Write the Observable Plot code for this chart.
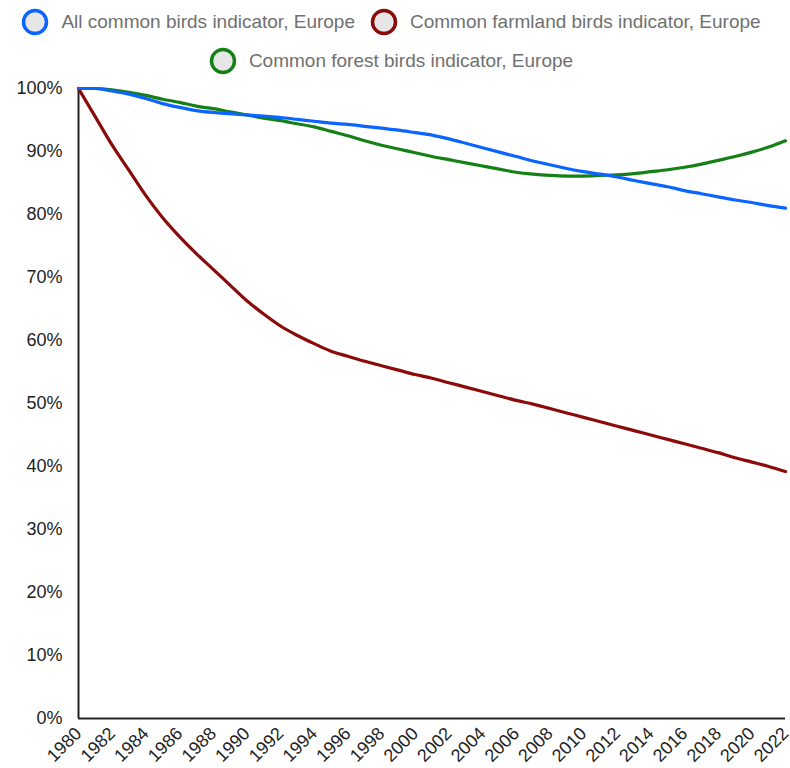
<!DOCTYPE html>
<html><head><meta charset="utf-8">
<script src="https://cdn.jsdelivr.net/npm/d3@7"></script>
<script src="https://cdn.jsdelivr.net/npm/@observablehq/plot@0.6"></script>
<style>
body{margin:0;background:#fff;font-family:"Liberation Sans",Arial,sans-serif;}
#legend{display:flex;flex-wrap:wrap;justify-content:center;column-gap:15px;row-gap:10px;width:790px;height:76px;box-sizing:border-box;padding-top:8px;padding-right:8px;}
.item{display:flex;align-items:center;gap:12px;font-size:19px;color:#707070;height:28px;white-space:nowrap;}
.item svg{display:block;}
</style></head><body>
<div id="legend"></div><div id="chart"></div>
<script>
const years = [1980,1981,1982,1983,1984,1985,1986,1987,1988,1989,1990,1991,1992,1993,1994,1995,1996,1997,1998,1999,2000,2001,2002,2003,2004,2005,2006,2007,2008,2009,2010,2011,2012,2013,2014,2015,2016,2017,2018,2019,2020,2021,2022];
const allBirds = [100,100,99.6,99.1,98.4,97.6,97.0,96.5,96.2,96.0,95.8,95.6,95.4,95.1,94.8,94.5,94.3,94.0,93.7,93.4,93.0,92.6,92.0,91.3,90.6,89.9,89.2,88.5,87.9,87.3,86.8,86.4,85.95,85.4,84.9,84.4,83.8,83.3,82.8,82.3,81.9,81.4,81.0];
const farmland = [100,95.5,91,87,83,79.5,76.5,73.8,71.3,68.8,66.3,64.2,62.3,60.8,59.5,58.3,57.5,56.7,56.0,55.3,54.6,54.0,53.3,52.6,51.9,51.2,50.5,49.9,49.2,48.5,47.8,47.1,46.4,45.7,45.0,44.3,43.6,42.9,42.2,41.4,40.7,40.0,39.2];
const forest = [100,100,99.8,99.4,98.9,98.3,97.8,97.2,96.8,96.3,95.8,95.3,94.9,94.4,93.9,93.2,92.5,91.7,91.0,90.4,89.8,89.2,88.7,88.2,87.7,87.2,86.7,86.4,86.2,86.1,86.1,86.2,86.3,86.5,86.8,87.1,87.5,88.0,88.6,89.2,89.9,90.7,91.7];
const seriesNames = ["All common birds indicator, Europe","Common farmland birds indicator, Europe","Common forest birds indicator, Europe"];
const seriesColors = ["#0a64ff","#8b0a0a","#158015"];
const xTicks = [1980,1982,1984,1986,1988,1990,1992,1994,1996,1998,2000,2002,2004,2006,2008,2010,2012,2014,2016,2018,2020,2022];
const yTicks = [0,10,20,30,40,50,60,70,80,90,100];

const seriesValues = [allBirds, farmland, forest];
// legend
const legend = document.getElementById("legend");
seriesNames.forEach((name, i) => {
  const item = document.createElement("span");
  item.className = "item";
  item.innerHTML = `<svg width="28" height="28"><circle cx="14" cy="14" r="11.5" fill="#e6e6e6" stroke="${seriesColors[i]}" stroke-width="3.5"/></svg><span>${name}</span>`;
  legend.appendChild(item);
});

// data table: draw order forest, farmland, all
const order = [2, 1, 0];
const data = [];
order.forEach(i => years.forEach((y, j) => data.push({year: y, value: seriesValues[i][j], series: seriesNames[i]})));

const chart = Plot.plot({
  width: 790, height: 692,
  marginLeft: 78, marginRight: 5, marginTop: 12, marginBottom: 50,
  style: {fontFamily: '"Liberation Sans", Arial, sans-serif', fontSize: "18px", color: "#222", background: "#fff", overflow: "visible"},
  x: {domain: [1980, 2022]},
  y: {domain: [0, 100]},
  color: {domain: seriesNames, range: seriesColors},
  marks: [
    Plot.axisX({ticks: xTicks, tickRotate: -45, tickSize: 0, tickPadding: 12, tickFormat: d => String(d), label: null, fontSize: 18}),
    Plot.axisY({ticks: yTicks, tickSize: 0, tickPadding: 16, tickFormat: d => d + "%", label: null, fontSize: 18}),
    Plot.ruleX([1980], {stroke: "#222", strokeWidth: 2}),
    Plot.ruleY([0], {stroke: "#222", strokeWidth: 2}),
    Plot.line(data, {x: "year", y: "value", z: "series", stroke: "series", strokeWidth: 3.2, curve: "monotone-x"})
  ]
});
document.getElementById("chart").appendChild(chart);
</script>
</body></html>
